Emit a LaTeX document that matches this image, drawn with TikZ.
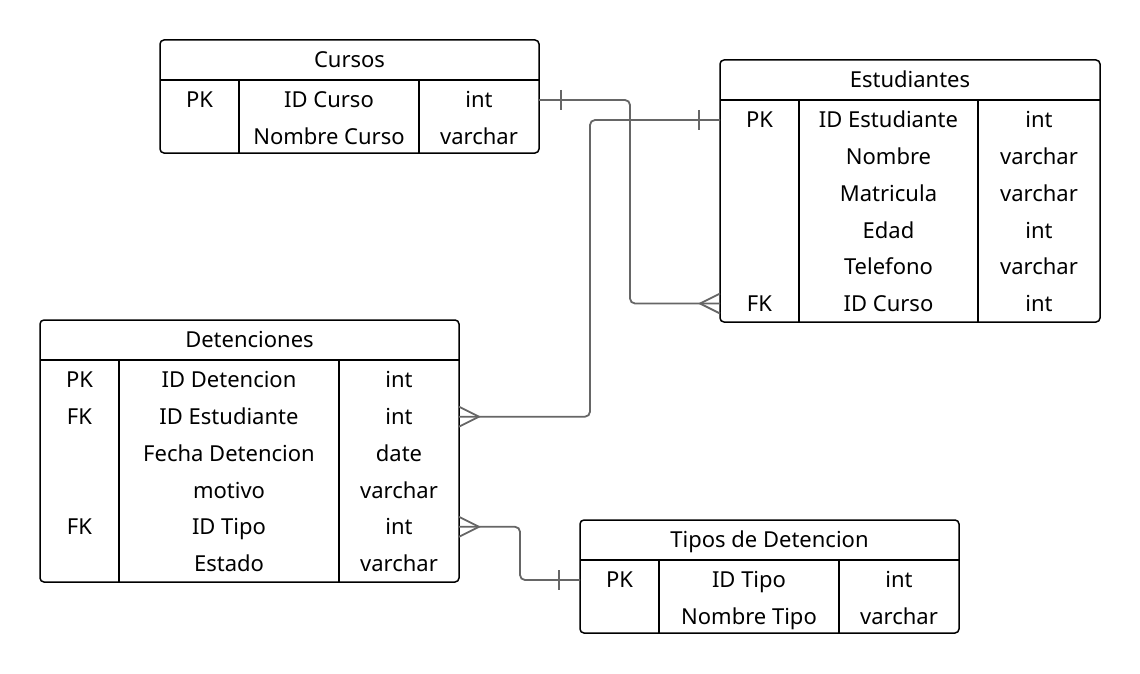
\documentclass[tikz,border=0pt]{standalone}
\usepackage{fontspec}
\setmainfont{Noto Sans}
\usepackage{xcolor}
\usetikzlibrary{calc}
\definecolor{relgray}{RGB}{102,102,102}

\begin{document}
\begin{tikzpicture}[
    x=1pt, y=-1pt,
    tbl/.style={draw, line width=1.5pt, rounded corners=4pt, anchor=north west, inner sep=0pt, outer sep=0pt},
    cell/.style={inner sep=0pt, text height=15.8pt, text depth=0pt, font=\fontsize{22}{26}\selectfont},
    rule/.style={line width=1.5pt},
    rel/.style={draw=relgray, line width=1.8pt, rounded corners=5pt},
    relend/.style={draw=relgray, line width=1.8pt},
]
\useasboundingbox (0,0) rectangle (1140,674);

% Cursos
\node[tbl, minimum width=379pt, minimum height=113pt] (cursos) at (160,40) {};
\draw[rule] (160,80) -- (539,80);
\draw[rule] (239,80) -- (239,153);
\draw[rule] (419,80) -- (419,153);
\node[cell] (cur-title) at (349.5,60) {Cursos};
\node[cell] (cur-pk) at (199.5,100) {PK};
\node[cell] (cur-id) at (329,100) {ID Curso};
\node[cell] (cur-id-t) at (479,100) {int};
\node[cell] (cur-nombre) at (329,136.7) {Nombre Curso};
\node[cell] (cur-nombre-t) at (479,136.7) {varchar};

% Estudiantes
\node[tbl, minimum width=380pt, minimum height=262pt] (estud) at (720,60) {};
\draw[rule] (720,100) -- (1100,100);
\draw[rule] (799,100) -- (799,322);
\draw[rule] (978,100) -- (978,322);
\node[cell] (est-title) at (910,80) {Estudiantes};
\node[cell] (est-pk) at (759.5,120) {PK};
\node[cell] (est-id) at (888.5,120) {ID Estudiante};
\node[cell] (est-id-t) at (1039,120) {int};
\node[cell] (est-nombre) at (888.5,156.7) {Nombre};
\node[cell] (est-nombre-t) at (1039,156.7) {varchar};
\node[cell] (est-matricula) at (888.5,193.4) {Matricula};
\node[cell] (est-matricula-t) at (1039,193.4) {varchar};
\node[cell] (est-edad) at (888.5,230.1) {Edad};
\node[cell] (est-edad-t) at (1039,230.1) {int};
\node[cell] (est-telefono) at (888.5,266.8) {Telefono};
\node[cell] (est-telefono-t) at (1039,266.8) {varchar};
\node[cell] (est-fk) at (759.5,303.5) {FK};
\node[cell] (est-idcurso) at (888.5,303.5) {ID Curso};
\node[cell] (est-idcurso-t) at (1039,303.5) {int};

% Detenciones
\node[tbl, minimum width=419pt, minimum height=262pt] (deten) at (40,320) {};
\draw[rule] (40,360) -- (459,360);
\draw[rule] (119,360) -- (119,582);
\draw[rule] (339,360) -- (339,582);
\node[cell] (det-title) at (249.5,340) {Detenciones};
\node[cell] (det-pk) at (79.5,380) {PK};
\node[cell] (det-id) at (229,380) {ID Detencion};
\node[cell] (det-id-t) at (399,380) {int};
\node[cell] (det-fk1) at (79.5,416.7) {FK};
\node[cell] (det-idest) at (229,416.7) {ID Estudiante};
\node[cell] (det-idest-t) at (399,416.7) {int};
\node[cell] (det-fecha) at (229,453.4) {Fecha Detencion};
\node[cell] (det-fecha-t) at (399,453.4) {date};
\node[cell] (det-motivo) at (229,490.1) {motivo};
\node[cell] (det-motivo-t) at (399,490.1) {varchar};
\node[cell] (det-fk2) at (79.5,526.8) {FK};
\node[cell] (det-idtipo) at (229,526.8) {ID Tipo};
\node[cell] (det-idtipo-t) at (399,526.8) {int};
\node[cell] (det-estado) at (229,563.5) {Estado};
\node[cell] (det-estado-t) at (399,563.5) {varchar};

% Tipos de Detencion
\node[tbl, minimum width=379pt, minimum height=113pt] (tipos) at (580,520) {};
\draw[rule] (580,560) -- (959,560);
\draw[rule] (659,560) -- (659,633);
\draw[rule] (839,560) -- (839,633);
\node[cell] (tip-title) at (769.5,540) {Tipos de Detencion};
\node[cell] (tip-pk) at (619.5,580) {PK};
\node[cell] (tip-id) at (749,580) {ID Tipo};
\node[cell] (tip-id-t) at (899,580) {int};
\node[cell] (tip-nombre) at (749,616.7) {Nombre Tipo};
\node[cell] (tip-nombre-t) at (899,616.7) {varchar};

% Relation ends
\coordinate (c1a) at (cursos.east |- cur-id-t);
\coordinate (c1b) at (estud.west |- est-idcurso-t);
\coordinate (c2a) at (estud.west |- est-pk);
\coordinate (c2b) at (deten.east |- det-idest-t);
\coordinate (c3a) at (deten.east |- det-idtipo-t);
\coordinate (c3b) at (tipos.west |- tip-pk);

% Relations
\draw[rel] (c1a) -- (630,100) -- (630,303.5) -- (c1b);
\draw[rel] (c2a) -- (590,120) -- (590,416.7) -- (c2b);
\draw[rel] (c3a) -- (520,526.8) -- (520,580) -- (c3b);

% one / many marks
\draw[relend] ($(c1a)+(22,-10)$) -- ($(c1a)+(22,10)$);
\draw[relend] ($(c1b)+(0,-10)$) -- ($(c1b)+(-20,0)$) -- ($(c1b)+(0,10)$);
\draw[relend] ($(c2a)+(-21,-10)$) -- ($(c2a)+(-21,10)$);
\draw[relend] ($(c2b)+(0,-10)$) -- ($(c2b)+(20,0)$) -- ($(c2b)+(0,10)$);
\draw[relend] ($(c3a)+(0,-10)$) -- ($(c3a)+(20,0)$) -- ($(c3a)+(0,10)$);
\draw[relend] ($(c3b)+(-21,-10)$) -- ($(c3b)+(-21,10)$);

\end{tikzpicture}
\end{document}
